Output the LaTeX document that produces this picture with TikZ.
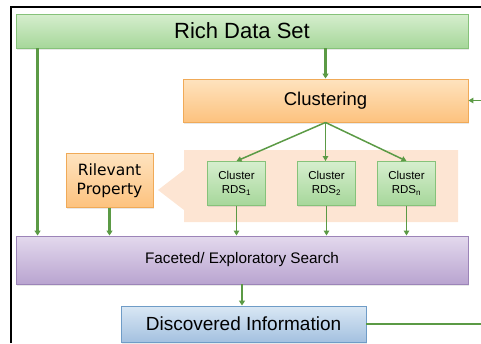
\documentclass[tikz,border=0pt]{standalone}
\usepackage{fontspec}
\setmainfont{Liberation Sans}
\newfontfamily\dejavu{DejaVu Sans}
\usetikzlibrary{arrows.meta,shadows}
\definecolor{arrowgreen}{HTML}{5B9A45}
\definecolor{gTop}{HTML}{D6EECE}
\definecolor{gBot}{HTML}{A6D79A}
\definecolor{gBrd}{HTML}{86C27A}
\definecolor{oTop}{HTML}{FEE3BF}
\definecolor{oBot}{HTML}{FDC27E}
\definecolor{oBrd}{HTML}{F0AA58}
\definecolor{peach}{HTML}{FDE5D3}
\definecolor{pTop}{HTML}{E3D9ED}
\definecolor{pBot}{HTML}{B9A4D0}
\definecolor{pBrd}{HTML}{9C84B8}
\definecolor{bTop}{HTML}{D9E7F4}
\definecolor{bBot}{HTML}{A4C1E0}
\definecolor{bBrd}{HTML}{6F9CC7}
\tikzset{
  boxbase/.style={rectangle, inner sep=0pt, line width=0.9pt, align=center,
    drop shadow={opacity=0.18, shadow xshift=0.8pt, shadow yshift=-1.5pt}},
  greenbox/.style={boxbase, draw=gBrd, top color=gTop, bottom color=gBot},
  orangebox/.style={boxbase, draw=oBrd, top color=oTop, bottom color=oBot},
  purplebox/.style={boxbase, draw=pBrd, top color=pTop, bottom color=pBot},
  bluebox/.style={boxbase, draw=bBrd, top color=bTop, bottom color=bBot},
  clusterbox/.style={greenbox, minimum width=58pt, minimum height=44pt,
    font=\fontsize{11.5}{14}\selectfont},
  thinarrow/.style={draw=arrowgreen, line width=1.5pt, -{Triangle[length=5pt,width=5.5pt]}},
  thickarrow/.style={draw=arrowgreen, line width=2.6pt, -{Triangle[length=5pt,width=6pt]}},
  plainline/.style={draw=arrowgreen, line width=1.5pt}
}
\begin{document}
\begin{tikzpicture}[x=1pt,y=-1pt]
\useasboundingbox (0,0) rectangle (481,343);
% frame
\draw[line width=1.2pt] (11,343) -- (11,7) -- (481,7);
% peach block arrow
\fill[peach] (458,150) -- (184,150) -- (184,170) -- (158,190) -- (184,210) -- (184,222) -- (458,222) -- cycle;
% nodes
\node[greenbox, minimum width=452pt, minimum height=34pt,
  font=\fontsize{22}{25}\selectfont] (rds) at (242,31) {Rich Data Set};
\node[orangebox, minimum width=285pt, minimum height=43pt,
  font=\fontsize{18.5}{21}\selectfont] (clust) at (325.5,100.5) {Clustering};
\node[orangebox, minimum width=87pt, minimum height=54pt,
  font=\dejavu\fontsize{15.5}{19.5}\selectfont] (rilev) at (109.5,180.5) {Rilevant\\Property};
\node[clusterbox] (c1) at (236.5,183.5) {Cluster\\RDS\textsubscript{1}};
\node[clusterbox] (c2) at (326.5,183.5) {Cluster\\RDS\textsubscript{2}};
\node[clusterbox] (cn) at (406.5,183.5) {Cluster\\RDS\textsubscript{n}};
\node[purplebox, minimum width=452pt, minimum height=48pt,
  font=\fontsize{15.3}{18}\selectfont] (fac) at (242,260) {Faceted/ Exploratory Search};
\node[bluebox, minimum width=245pt, minimum height=36pt,
  font=\fontsize{19}{22}\selectfont] (disc) at (243.5,324) {Discovered Information};
% free ends
\coordinate (inR) at (481,100.5);
\coordinate (outR) at (481,324);
% connectors
\draw[thickarrow] (rds.south -| clust.north) -- (clust.north);
\draw[thickarrow] ([xshift=22pt]rds.south west) -- ([xshift=22pt]fac.north west);
\draw[thinarrow] (inR) -- (clust.east);
\draw[thinarrow] (clust.south) -- (c1.north);
\draw[thinarrow] (clust.south) -- (clust.south |- c2.north);
\draw[thinarrow] (clust.south) -- (cn.north);
\draw[thinarrow] (c1.south) -- (c1.south |- fac.north);
\draw[thinarrow] (c2.south) -- (c2.south |- fac.north);
\draw[thinarrow] (cn.south) -- (cn.south |- fac.north);
\draw[thickarrow] (rilev.south) -- (rilev.south |- fac.north);
\draw[thickarrow] (fac.south) -- (fac.south |- disc.north);
\draw[plainline] (disc.east) -- (outR);
\end{tikzpicture}
\end{document}
